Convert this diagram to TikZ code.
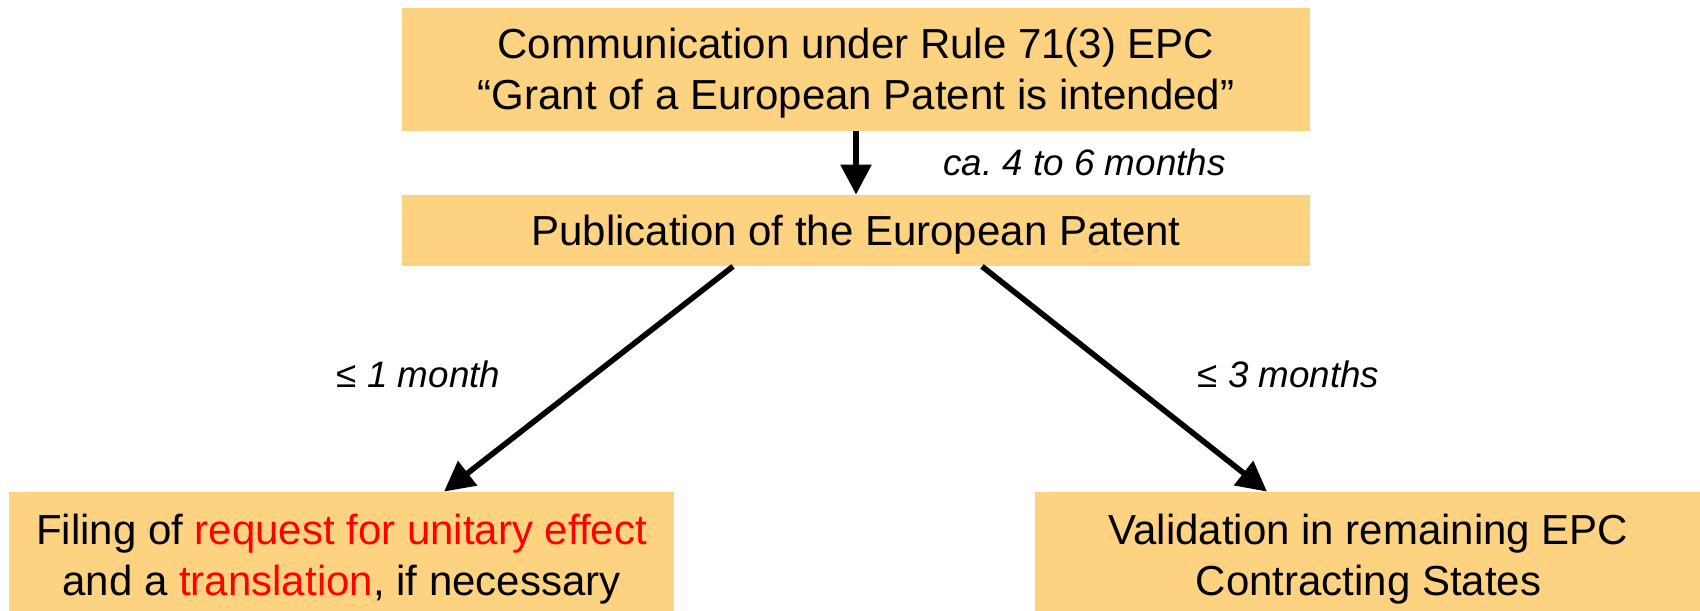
\documentclass[tikz,border=0pt]{standalone}
\usepackage{fontspec}
\setmainfont{Liberation Sans}
\usetikzlibrary{arrows.meta}
\definecolor{boxfill}{RGB}{253,210,128}
% struts that fix where the first baseline and the last line sit in a box
\newcommand{\topstrut}[1]{\rule{0pt}{#1}}
\newcommand{\botstrut}[1]{\rule[-#1]{0pt}{#1}}
\tikzset{
  stagebox/.style={fill=boxfill, draw=none, inner sep=0pt, align=center,
    font=\fontsize{21pt}{25.5pt}\selectfont},
  flow/.style={line width=2.8pt, -{Triangle[length=15pt,width=15pt]}},
  timing/.style={font=\fontsize{18.4pt}{22pt}\selectfont\itshape, inner sep=0pt, anchor=base}
}
\begin{document}
\frenchspacing
\begin{tikzpicture}[x=0.5pt, y=-0.5pt]
  \useasboundingbox (0,0) rectangle (1700,610);
  \clip (0,0) rectangle (1700,610);

  % stages of the grant procedure
  \node[stagebox, minimum width=454pt, minimum height=61.5pt] (grant) at (856,69.5)
    {\topstrut{21pt}Communication under Rule 71(3) EPC\\``Grant of a European Patent is intended''\botstrut{6pt}};
  \node[stagebox, minimum width=454pt, minimum height=35.5pt] (pub) at (856,230.5)
    {\topstrut{20.5pt}Publication of the European Patent\botstrut{6pt}};
  \node[stagebox, minimum width=332.5pt, minimum height=66.5pt] (unitary) at (341.5,558.5)
    {\topstrut{17pt}Filing of \textcolor{red}{request for unitary effect}\\and a \textcolor{red}{translation}, if necessary\botstrut{6pt}};
  \node[stagebox, minimum width=333.5pt, minimum height=66.5pt] (valid) at (1368.5,558.5)
    {\topstrut{17pt}Validation in remaining EPC\\Contracting States\botstrut{6pt}};

  % transitions
  \draw[flow] (grant.south) -- (pub.north);
  \draw[flow] ([xshift=-61.5pt]pub.south) -- ([xshift=51.25pt]unitary.north);
  \draw[flow] ([xshift=63pt]pub.south) -- ([xshift=-50.75pt]valid.north);

  % time limits
  \node[timing] (tmain) at (1084.5,175) {ca. 4 to 6 months};
  \node[timing] (tleft) at (418.5,387) {≤ 1 month};
  \node[timing] (tright) at (1288.5,387) {≤ 3 months};
\end{tikzpicture}
\end{document}
